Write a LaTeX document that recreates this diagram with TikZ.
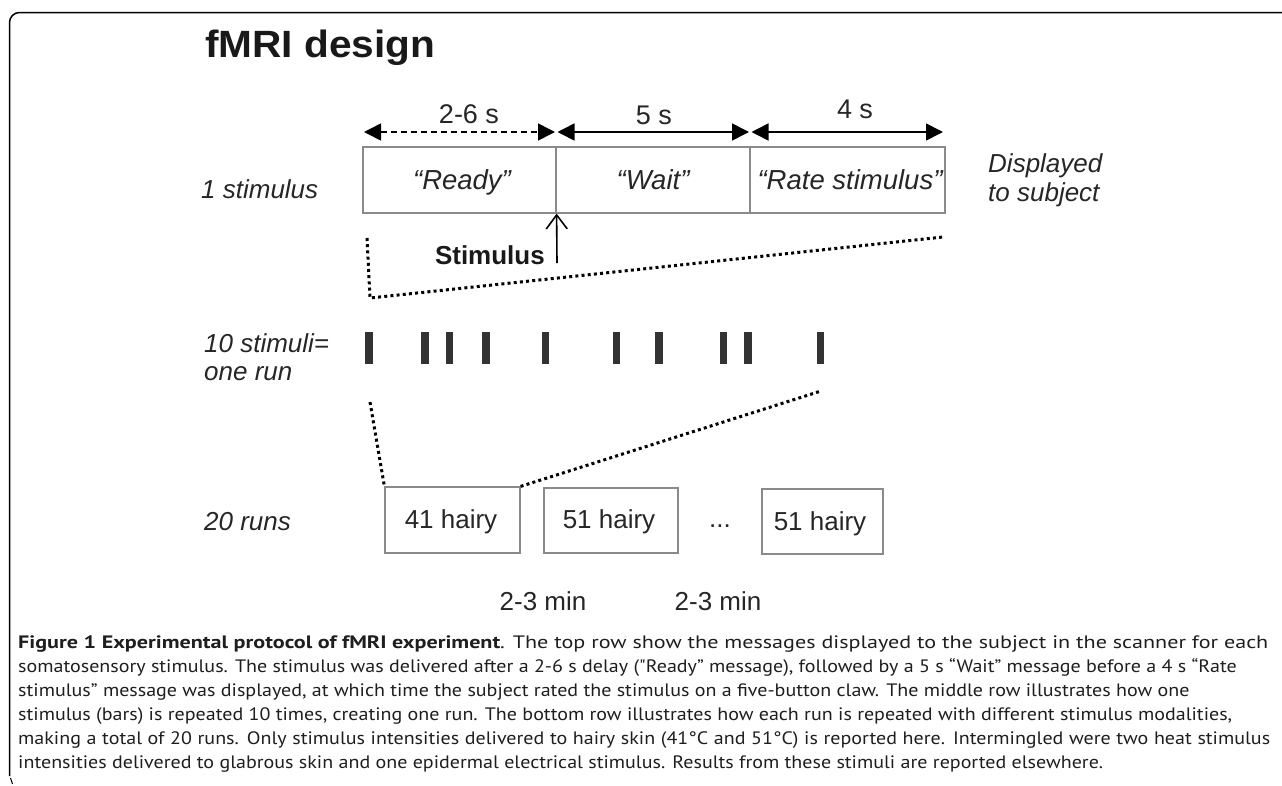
\documentclass[tikz,border=0pt]{standalone}
\usepackage{fontspec}
\usepackage{graphicx}
\setmainfont{Liberation Sans}
\newfontfamily\capfont{PT Sans}
\usetikzlibrary{arrows.meta}
\newcommand\fitw[2]{\resizebox{#1}{\height}{#2}}
\newsavebox\capmeasure
\newlength\capwidth
\definecolor{boxgray}{HTML}{8A8A8A}
\definecolor{bardark}{HTML}{333333}
\definecolor{captxt}{HTML}{1E1E1E}
\tikzset{
  lbl/.style={inner sep=0pt, anchor=base west, font=\fontsize{26}{30}\selectfont\itshape, text=black!85},
  msg/.style={inner sep=0pt, anchor=base, font=\fontsize{27.5}{32}\selectfont\itshape, text=black!85},
  dur/.style={inner sep=0pt, anchor=base, font=\fontsize{27}{30}\selectfont, text=black!85},
  runbox/.style={draw=boxgray, line width=1.2pt, inner sep=0pt},
  runtxt/.style={inner sep=0pt, anchor=base, font=\fontsize{26}{30}\selectfont, text=black!85},
  dimarrow/.style={line width=1.6pt, {Triangle[length=17pt,width=17pt]}-{Triangle[length=17pt,width=17pt]}},
  dots/.style={line width=3pt, dash pattern=on 3pt off 3.2pt},
  bar/.style={fill=bardark, draw=none},
  capline/.style={inner sep=0pt, anchor=base west, font=\capfont\fontsize{18}{22}\selectfont, text=captxt},
}
\begin{document}
\sbox\capmeasure{\capfont\fontsize{18}{22}\selectfont intensities delivered to glabrous skin and one epidermal electrical stimulus. Results from these stimuli are reported elsewhere.}%
\setlength\capwidth{\wd\capmeasure}%
\pgfmathsetmacro\capsx{1085/\capwidth}%
\pgfmathsetmacro\capwB{1252/\capsx}%
\begin{tikzpicture}[x=1pt,y=-1pt]
\useasboundingbox (0,0) rectangle (1282,785);
% frame
\draw[line width=1.5pt, rounded corners=10pt] (9.5,776) -- (9.5,12.5) -- (1290,12.5);
\draw[line width=1pt] (10.5,778) -- (12.5,784);
% title
\node[inner sep=0pt, anchor=base west, font=\fontsize{38}{40}\selectfont\bfseries, text=black!90] (title) at (205,57) {\fitw{230pt}{fMRI design}};
% row labels
\node[lbl] (l1) at (201,198) {1 stimulus};
\node[lbl] (l2a) at (204,352) {10 stimuli=};
\node[lbl] (l2b) at (204,380) {one run};
\node[lbl] (l3) at (204,530) {20 runs};
\node[lbl] (disp1) at (988,172) {Displayed};
\node[lbl] (disp2) at (988,201) {to subject};
% top row boxes
\node[runbox, minimum width=193pt, minimum height=66pt] (ready) at (459.5,180) {};
\node[runbox, minimum width=194pt, minimum height=66pt] (wait) at (653,180) {};
\node[runbox, minimum width=195pt, minimum height=66pt] (rate) at (847.5,180) {};
\node[msg] (readyt) at (462,189) {``Ready''};
\node[msg] (waitt) at (653,189) {``Wait''};
\node[msg] (ratet) at (850,189) {``Rate stimulus''};
% duration arrows
\coordinate (a0) at (364,132);
\coordinate (a1) at (555,132);
\coordinate (a2) at (557.5,132);
\coordinate (a3) at (749,132);
\coordinate (a4) at (751.5,132);
\coordinate (a5) at (943,132);
\draw[dimarrow, dash pattern=on 6pt off 4pt] (a0) -- (a1);
\draw[dimarrow] (a2) -- (a3);
\draw[dimarrow] (a4) -- (a5);
\node[dur] (d1) at (469,123) {2-6 s};
\node[dur] (d2) at (654,124) {5 s};
\node[dur] (d3) at (855,118) {4 s};
% stimulus arrow
\coordinate (stimfoot) at (557,263);
\draw[line width=1.6pt, -{Straight Barb[length=14pt,width=21pt]}] (stimfoot) -- (ready.south east);
\node[inner sep=0pt, anchor=base east, font=\fontsize{26}{30}\selectfont\bfseries, text=black!90] (stimlbl) at (545,264) {Stimulus};
% zoom lines top
\coordinate (z1) at (367,238);
\coordinate (z2) at (370,298);
\coordinate (z3) at (943,237);
\draw[dots] (z1) -- (z2) -- (z3);
% bars
\foreach \x [count=\i] in {369,425,449.3,486,545.7,616.7,659,723.3,748,820.3}
  \node[bar, minimum width=7.5pt, minimum height=32pt, inner sep=0pt] (bar\i) at (\x,348) {};
% bottom boxes
\node[runbox, minimum width=135pt, minimum height=66pt] (r1) at (452.5,520) {};
\node[runbox, minimum width=134pt, minimum height=65pt] (r2) at (611,520.5) {};
\node[runbox, minimum width=121pt, minimum height=65pt] (r3) at (822.5,521.5) {};
\node[runtxt] (r1t) at (451,528) {41 hairy};
\node[runtxt] (r2t) at (609,528) {51 hairy};
\node[runtxt] (r3t) at (820,530) {51 hairy};
\node[runtxt] (dots) at (720,527) {...};
% zoom lines bottom
\coordinate (z4) at (370,402);
\coordinate (z5) at (821,391);
\draw[dots] (z4) -- (r1.north west);
\draw[dots] (r1.north east) -- (z5);
% durations
\node[runtxt] (m1) at (543,610) {2-3 min};
\node[runtxt] (m2) at (718,610) {2-3 min};
% caption
\node[capline] (c1) at (18,648) {\fitw{1250pt}{\textbf{Figure 1 Experimental protocol of fMRI experiment}. The top row show the messages displayed to the subject in the scanner for each}};
\node[capline] (c2) at (18,672) {\scalebox{\capsx}[1]{somatosensory stimulus. The stimulus was delivered after a 2-6 s delay ("Ready” message), followed by a 5 s “Wait” message before a 4 s “Rate}};
\node[capline] (c3) at (18,696) {\scalebox{\capsx}[1]{stimulus” message was displayed, at which time the subject rated the stimulus on a five-button claw. The middle row illustrates how one}};
\node[capline] (c4) at (18,720) {\scalebox{\capsx}[1]{stimulus (bars) is repeated 10 times, creating one run. The bottom row illustrates how each run is repeated with different stimulus modalities,}};
\node[capline] (c5) at (18,744) {\scalebox{\capsx}[1]{\makebox[\capwB pt][s]{making a total of 20 runs. Only stimulus intensities delivered to hairy skin (41°C and 51°C) is reported here. Intermingled were two heat stimulus}}};
\node[capline] (c6) at (18,768) {\scalebox{\capsx}[1]{intensities delivered to glabrous skin and one epidermal electrical stimulus. Results from these stimuli are reported elsewhere.}};
\end{tikzpicture}
\end{document}
